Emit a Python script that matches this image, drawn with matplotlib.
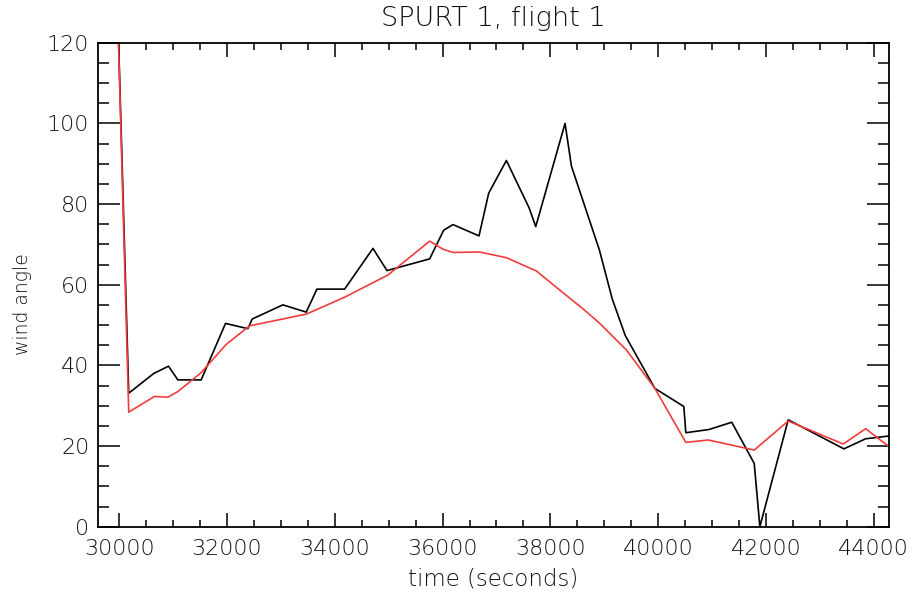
import matplotlib
matplotlib.use("Agg")
import matplotlib.pyplot as plt
from matplotlib.ticker import MultipleLocator

# ---- data ----
black_t = [29600, 30176, 30641, 30914, 31087, 31520, 31972, 32386, 32468, 33036,
           33470, 33668, 34182, 34708, 34968, 35760, 36020, 36193, 36676, 36856,
           37184, 37604, 37729, 38273, 38391, 38910, 39150, 39390, 39939, 40477,
           40514, 40945, 41366, 41783, 41888, 42414, 43448, 43851, 44290]
black_v = [300, 33.1, 38.0, 39.8, 36.4, 36.4, 50.4, 49.1, 51.5, 55.0,
           53.2, 58.9, 58.9, 69.0, 63.5, 66.4, 73.5, 74.9, 72.1, 82.7,
           90.8, 79.1, 74.4, 100.0, 89.4, 68.6, 56.4, 47.4, 34.3, 29.8,
           23.3, 24.1, 25.9, 15.7, 0.0, 26.5, 19.3, 21.8, 22.5]

red_t = [29600, 30176, 30654, 30901, 31087, 31520, 31985, 32418, 33470, 34182,
         34986, 35760, 36008, 36193, 36689, 37184, 37741, 38236, 38607, 38902,
         39135, 39413, 39939, 40514, 40929, 41783, 42414, 43436, 43851, 44290]
red_v = [305, 28.4, 32.3, 32.1, 33.5, 38.2, 45.2, 49.8, 52.7, 56.9,
         62.4, 70.8, 68.8, 68.0, 68.1, 66.7, 63.4, 58.0, 54.0, 50.6,
         47.5, 43.8, 34.3, 20.9, 21.5, 19.0, 26.2, 20.5, 24.3, 19.8]

x_ticks = [30000, 32000, 34000, 36000, 38000, 40000, 42000, 44000]
y_ticks = [0, 20, 40, 60, 80, 100, 120]

plt.rcParams['font.family'] = ['DejaVu Sans']
plt.rcParams['font.weight'] = 200

TXT = '#111111'
fig = plt.figure(figsize=(9.10, 5.94), dpi=100)
ax = fig.add_axes([97.7/910, 1 - 526.7/594, (889.3-97.7)/910, (526.7-42.7)/594])

ax.plot(black_t, black_v, color='black', lw=1.2)
ax.plot(red_t, red_v, color='#f23c3c', lw=1.2)

ax.set_xlim(29600, 44290)
ax.set_ylim(0, 120)
ax.set_xticks(x_ticks)
ax.set_xticklabels([str(t) for t in x_ticks])
ax.set_yticks(y_ticks)
ax.set_yticklabels([str(t) for t in y_ticks])
ax.xaxis.set_minor_locator(MultipleLocator(500))
ax.yaxis.set_minor_locator(MultipleLocator(5))

ax.tick_params(axis='x', which='major', direction='in', length=10, width=1.1,
               top=True, bottom=True, labelsize=16, pad=9, labelcolor=TXT)
ax.tick_params(axis='x', which='minor', direction='in', length=5, width=1.1,
               top=True, bottom=True)
ax.tick_params(axis='y', which='major', direction='in', length=15.5, width=1.1,
               left=True, right=True, labelsize=16, pad=6, labelcolor=TXT)
ax.tick_params(axis='y', which='minor', direction='in', length=8, width=1.1,
               left=True, right=True)
for s in ax.spines.values():
    s.set_linewidth(1.3)

ax.set_title('SPURT 1, flight 1', fontsize=19.5, pad=12, color=TXT, weight=200)
ax.set_xlabel('time (seconds)', fontsize=16.5, labelpad=6, color=TXT, weight=200)
ax.set_ylabel('wind angle', fontsize=13.5, color=TXT, weight=200,
              va='center', ha='center')
ax.yaxis.set_label_coords((22 - 97.7) / 791.6, (526.7 - 304) / 484)

fig.savefig('out.png', dpi=100)
